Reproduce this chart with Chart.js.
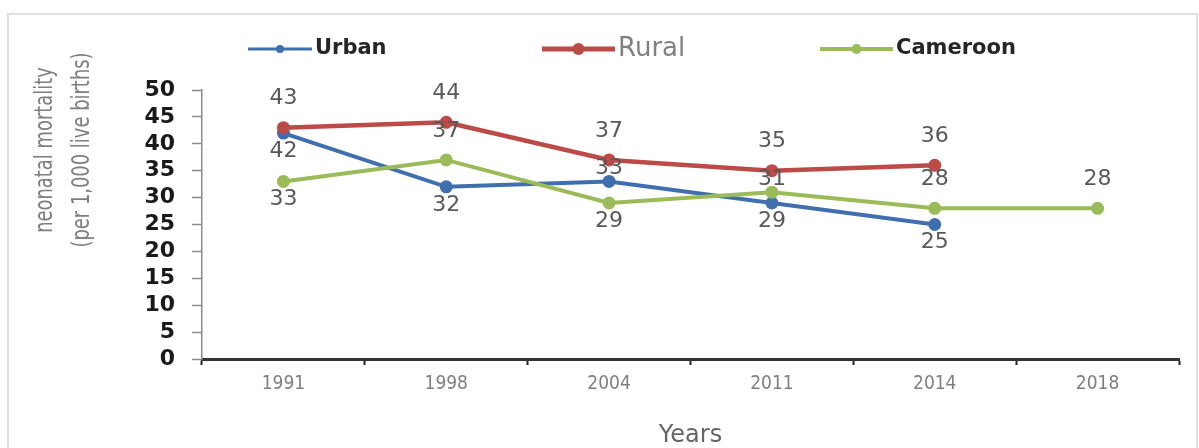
<!DOCTYPE html>
<html>
<head>
<meta charset="utf-8">
<script src="https://cdn.jsdelivr.net/npm/chart.js@4.4.1/dist/chart.umd.min.js"></script>
<style>
  html, body { margin: 0; padding: 0; background: #ffffff; }
  #wrap { width: 1199px; height: 448px; position: relative; }
</style>
</head>
<body>
<div id="wrap"><canvas id="c" width="1199" height="448"></canvas></div>
<script>
// ---- data ----
const years = ['1991', '1998', '2004', '2011', '2014', '2018'];
const urban = [42, 32, 33, 29, 25, null];
const rural = [43, 44, 37, 35, 36, null];
const cameroon = [33, 37, 29, 31, 28, 28];
const yTicks = [0, 5, 10, 15, 20, 25, 30, 35, 40, 45, 50];
const seriesNames = ['Urban', 'Rural', 'Cameroon'];
const yTitleLines = ['neonatal mortality', '(per 1,000 live births)'];
const xTitle = 'Years';
// label placement: a = above, b = below, n = just above
const urbanLabelPos = ['b', 'b', 'n', 'b', 'b', 'b'];
const ruralLabelPos = ['a', 'a', 'a', 'a', 'a', 'a'];
const cameroonLabelPos = ['b', 'a', 'b', 'n', 'a', 'a'];

const NARROW = '"Liberation Sans Narrow", "DejaVu Sans Condensed", "Liberation Sans", sans-serif';
const WIDE = '"DejaVu Sans", "Liberation Sans", sans-serif';

const COL_URBAN = '#3f6fae';
const COL_RURAL = '#bc4a47';
const COL_CAM = '#9bbb59';

const frameAndTitles = {
  id: 'frameAndTitles',
  beforeDraw(chart) {
    const ctx = chart.ctx;
    ctx.save();
    ctx.strokeStyle = '#dedede';
    ctx.lineWidth = 2;
    ctx.strokeRect(8, 14, 1189, 480);
    ctx.restore();
  },
  afterDraw(chart) {
    const ctx = chart.ctx;
    // y title
    ctx.save();
    ctx.fillStyle = '#7f7f7f';
    ctx.font = '24px ' + NARROW;
    ctx.textAlign = 'center';
    ctx.textBaseline = 'middle';
    const xs = [46, 83];
    yTitleLines.forEach((t, i) => {
      ctx.save();
      ctx.translate(xs[i], 150);
      ctx.rotate(-Math.PI / 2);
      ctx.scale(0.83, 1);
      ctx.fillText(t, 0, 0);
      ctx.restore();
    });
    ctx.restore();

    // legend
    const items = [
      { name: seriesNames[0], col: COL_URBAN, x1: 248, x2: 312, lw: 3, r: 4, font: 'bold 21px ' + WIDE, tc: '#262626' },
      { name: seriesNames[1], col: COL_RURAL, x1: 542, x2: 615, lw: 5, r: 6, font: '26px ' + WIDE, tc: '#808080' },
      { name: seriesNames[2], col: COL_CAM, x1: 820, x2: 893, lw: 4, r: 5, font: 'bold 21px ' + WIDE, tc: '#262626' }
    ];
    const ly = 49;
    items.forEach(it => {
      ctx.save();
      ctx.strokeStyle = it.col;
      ctx.lineWidth = it.lw;
      ctx.beginPath();
      ctx.moveTo(it.x1, ly);
      ctx.lineTo(it.x2, ly);
      ctx.stroke();
      ctx.fillStyle = it.col;
      ctx.beginPath();
      ctx.arc((it.x1 + it.x2) / 2, ly, it.r, 0, Math.PI * 2);
      ctx.fill();
      ctx.fillStyle = it.tc;
      ctx.font = it.font;
      ctx.textAlign = 'left';
      ctx.textBaseline = 'middle';
      ctx.fillText(it.name, it.x2 + 3, ly);
      ctx.restore();
    });
  }
};

const dataLabels = {
  id: 'dataLabels',
  afterDatasetsDraw(chart) {
    const ctx = chart.ctx;
    ctx.save();
    ctx.font = '22px ' + WIDE;
    ctx.fillStyle = '#595959';
    ctx.textAlign = 'center';
    ctx.textBaseline = 'middle';
    const off = { a: -29, b: 18, n: -13 };
    chart.data.datasets.forEach((ds, di) => {
      const meta = chart.getDatasetMeta(di);
      meta.data.forEach((pt, i) => {
        const v = ds.data[i];
        if (v === null || v === undefined) return;
        const p = ds.labelPos[i];
        ctx.fillText(String(v), pt.x, pt.y + off[p]);
      });
    });
    ctx.restore();
  }
};

function mkDs(label, data, col, lw, pos) {
  return {
    label, data,
    borderColor: col,
    backgroundColor: col,
    borderWidth: lw,
    pointRadius: 6.5,
    pointHoverRadius: 6.5,
    pointBackgroundColor: col,
    pointBorderColor: col,
    pointBorderWidth: 0,
    tension: 0,
    fill: false,
    spanGaps: false,
    labelPos: pos
  };
}

new Chart(document.getElementById('c'), {
  type: 'line',
  data: {
    labels: years,
    datasets: [
      mkDs(seriesNames[1], rural, COL_RURAL, 4.5, ruralLabelPos),
      mkDs(seriesNames[2], cameroon, COL_CAM, 4, cameroonLabelPos),
      mkDs(seriesNames[0], urban, COL_URBAN, 4, urbanLabelPos)
    ]
  },
  options: {
    responsive: false,
    animation: false,
    devicePixelRatio: 1,
    layout: { padding: { top: 90, right: 20, bottom: 0, left: 0 } },
    plugins: {
      legend: { display: false },
      tooltip: { enabled: false },
      title: { display: false }
    },
    scales: {
      x: {
        type: 'category',
        offset: true,
        grid: {
          offset: true,
          drawOnChartArea: false,
          drawTicks: true,
          tickLength: 6,
          tickWidth: 2,
          tickColor: '#222222'
        },
        border: { display: true, color: '#333333', width: 3 },
        ticks: {
          color: '#7f7f7f',
          font: { family: NARROW, size: 19 },
          padding: 8,
          maxRotation: 0,
          autoSkip: false
        },
        title: {
          display: true,
          text: xTitle,
          color: '#666666',
          font: { family: WIDE, size: 24, lineHeight: 1 },
          padding: { top: 0, bottom: 0 }
        },
        afterFit(scale) { scale.height = 89; }
      },
      y: {
        min: 0,
        max: 50,
        afterBuildTicks(scale) { scale.ticks = yTicks.map(v => ({ value: v })); },
        grid: {
          drawOnChartArea: false,
          drawTicks: true,
          tickLength: 10,
          tickColor: '#8c8c8c',
          tickWidth: 1.5
        },
        border: { display: true, color: '#8c8c8c', width: 1.5 },
        ticks: {
          color: '#1a1a1a',
          font: { family: WIDE, size: 22, weight: 'bold' },
          padding: 17,
          autoSkip: false
        },
        afterFit(scale) { scale.width = 202; }
      }
    }
  },
  plugins: [frameAndTitles, dataLabels]
});
</script>
</body>
</html>
